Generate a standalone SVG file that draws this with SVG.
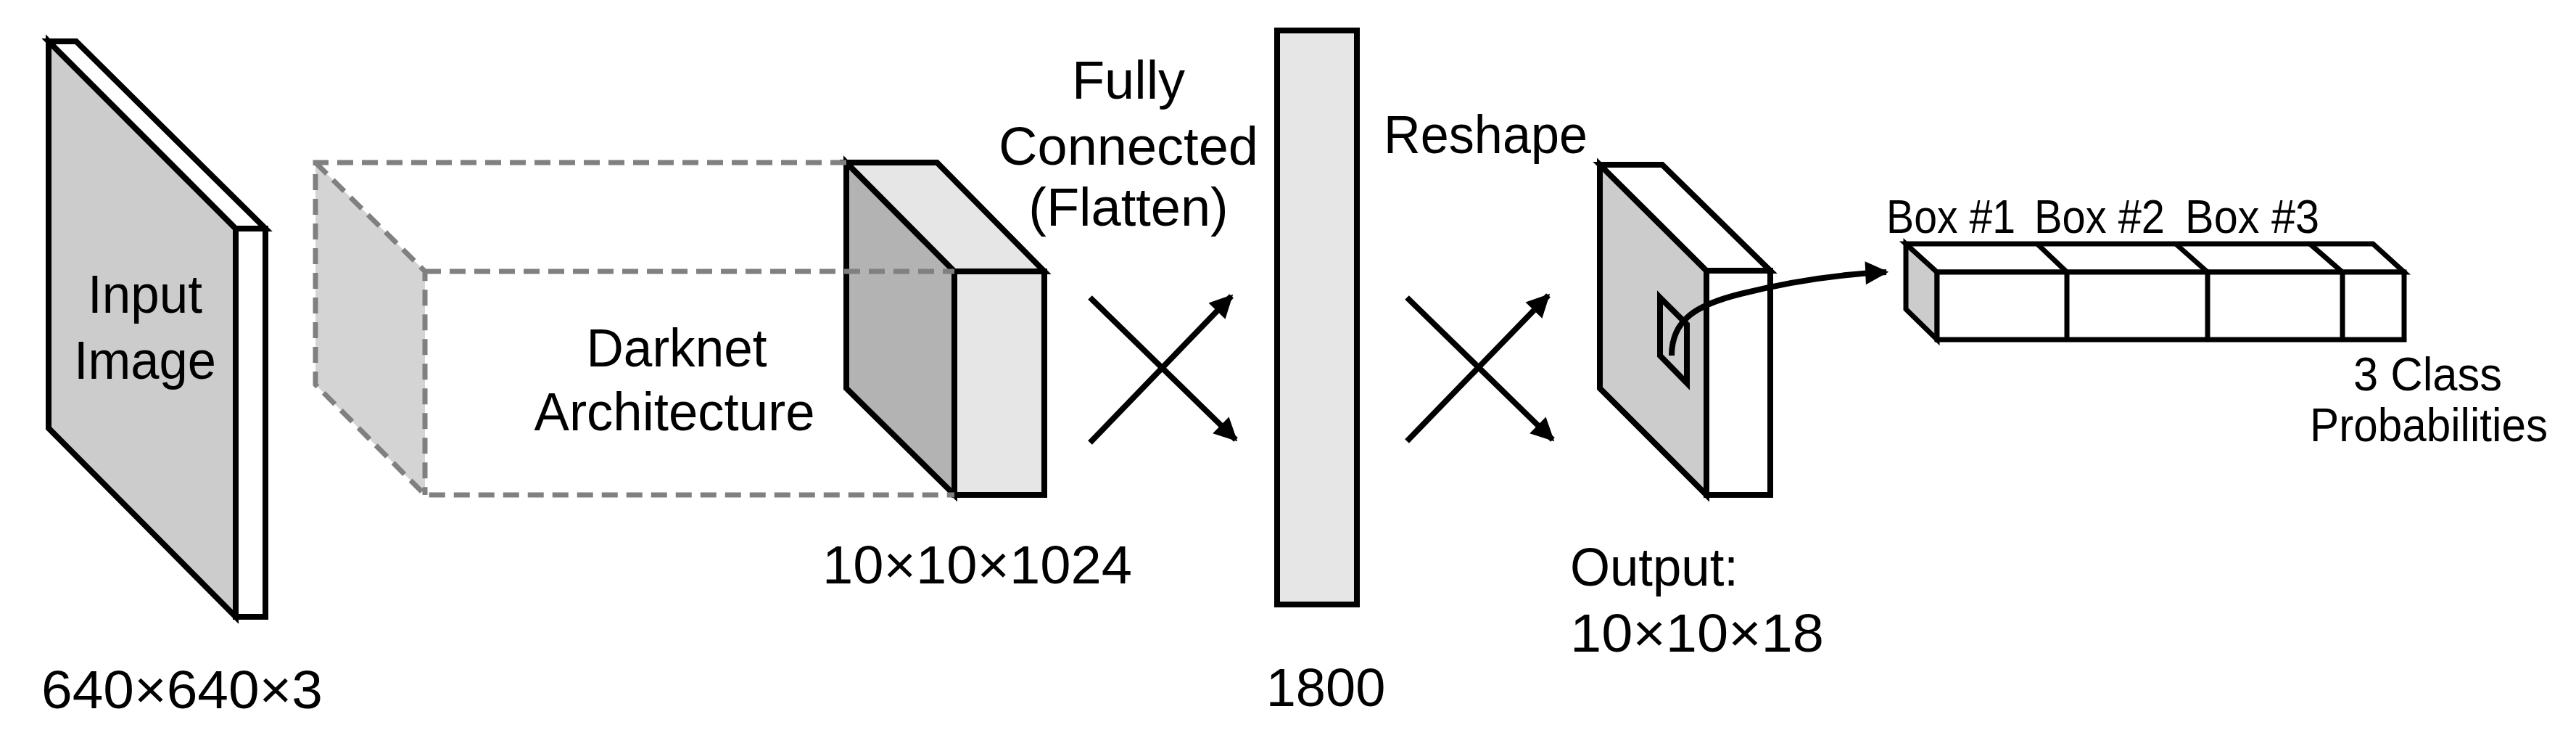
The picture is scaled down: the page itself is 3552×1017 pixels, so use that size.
<svg xmlns="http://www.w3.org/2000/svg" width="3552" height="1017" viewBox="0 0 3552 1017">
<defs>
<style>
.s{stroke:#000;stroke-width:8;stroke-linejoin:miter}
.d{fill:none;stroke:#808080;stroke-width:7;stroke-dasharray:22 12}
.t{font-family:"Liberation Sans",Arial,sans-serif;font-size:74px;fill:#000}
.st{font-family:"Liberation Sans",Arial,sans-serif;font-size:64px;fill:#000}
.c{fill:none;stroke:#000;stroke-width:8}
</style>
<marker id="ah" viewBox="0 0 10 10" refX="9" refY="5" markerWidth="4.5" markerHeight="4" orient="auto" markerUnits="strokeWidth"><path d="M0,0L10,5L0,10z" fill="#000"/></marker>
</defs>
<rect width="3552" height="1017" fill="#fff"/>
<g id="input">
<polygon class="s" fill="#ccc" points="67,57 325,315 325,850 67,590"/>
<polygon class="s" fill="#fff" points="67,57 105,57 366,315 325,315"/>
<rect class="s" fill="#fff" x="325" y="315" width="41" height="535"/>
<text class="t" x="200" y="431" text-anchor="middle" textLength="158" lengthAdjust="spacingAndGlyphs">Input</text>
<text class="t" x="200" y="522" text-anchor="middle" textLength="196" lengthAdjust="spacingAndGlyphs">Image</text>
<text class="t" x="57" y="976" textLength="388" lengthAdjust="spacingAndGlyphs">640×640×3</text>
</g>
<g id="darknet">
<polygon fill="#ccc" fill-opacity="0.85" points="435,224 586,374 586,682 435,530"/>
<polygon class="s" fill="#b3b3b3" points="1167,224 1316,374 1316,682 1167,535"/>
<polygon class="s" fill="#e6e6e6" points="1167,224 1292,224 1440,374 1316,374"/>
<rect class="s" fill="#e6e6e6" x="1316" y="374" width="124" height="308"/>
<path class="d" d="M1167,224H435V530L586,682H1316M435,224L586,374V682M586,374H1316"/>
<text class="t" x="933" y="505" text-anchor="middle" textLength="249" lengthAdjust="spacingAndGlyphs">Darknet</text>
<text class="t" x="930" y="593" text-anchor="middle" textLength="387" lengthAdjust="spacingAndGlyphs">Architecture</text>
<text class="t" x="1134" y="804" textLength="427" lengthAdjust="spacingAndGlyphs">10×10×1024</text>
</g>
<g id="fc">
<text class="t" x="1556" y="136" text-anchor="middle">Fully</text>
<text class="t" x="1556" y="227" text-anchor="middle">Connected</text>
<text class="t" x="1556" y="311" text-anchor="middle">(Flatten)</text>
<rect class="s" fill="#e6e6e6" x="1761" y="42" width="110" height="791"/>
<text class="t" x="1828" y="973" text-anchor="middle">1800</text>
</g>
<g id="output">
<text class="t" x="1908" y="211" textLength="281" lengthAdjust="spacingAndGlyphs">Reshape</text>
<polygon class="s" fill="#ccc" points="2206,227 2353,373 2353,682 2206,535"/>
<polygon class="s" fill="#fff" points="2206,227 2292,227 2441,373 2353,373"/>
<rect class="s" fill="#fff" x="2353" y="373" width="88" height="309"/>
<polygon class="s" fill="none" points="2289,410 2326,447 2326,528 2289,490"/>
<text class="t" x="2165" y="807" textLength="232" lengthAdjust="spacingAndGlyphs">Output:</text>
<text class="t" x="2165" y="898" textLength="350" lengthAdjust="spacingAndGlyphs">10×10×18</text>
</g>
<g id="boxes">
<polygon fill="#ccc" stroke="#000" stroke-width="7" points="2628,336 2671,375 2671,468 2628,426"/>
<polygon fill="#fff" stroke="#000" stroke-width="7" points="2628,336 3272,336 3315,375 2671,375"/>
<rect fill="#fff" stroke="#000" stroke-width="7" x="2671" y="375" width="644" height="93"/>
<path fill="none" stroke="#000" stroke-width="7" d="M2809,336L2850,375V468M3000,336L3044,375V468M3185,336L3230,375V468"/>
<text class="st" x="2601" y="321" textLength="178" lengthAdjust="spacingAndGlyphs">Box #1</text>
<text class="st" x="2805" y="321" textLength="180" lengthAdjust="spacingAndGlyphs">Box #2</text>
<text class="st" x="3013" y="321" textLength="185" lengthAdjust="spacingAndGlyphs">Box #3</text>
<text class="st" x="3245" y="538" textLength="205" lengthAdjust="spacingAndGlyphs">3 Class</text>
<text class="st" x="3185" y="608" textLength="328" lengthAdjust="spacingAndGlyphs">Probabilities</text>
</g>
<g id="connectors">
<line class="c" x1="1503" y1="410" x2="1704" y2="606" marker-end="url(#ah)"/>
<line class="c" x1="1503" y1="610" x2="1698" y2="408" marker-end="url(#ah)"/>
<line class="c" x1="1940" y1="410" x2="2141" y2="606" marker-end="url(#ah)"/>
<line class="c" x1="1940" y1="608" x2="2135" y2="407" marker-end="url(#ah)"/>
<path class="c" d="M2305,490C2305,440 2340,420 2400,405C2460,390 2530,378 2601,375" marker-end="url(#ah)"/>
</g>
</svg>
